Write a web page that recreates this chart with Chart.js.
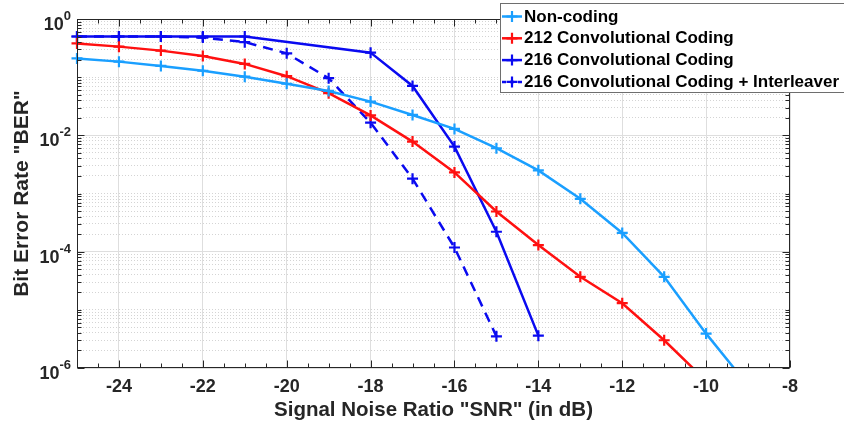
<!DOCTYPE html>
<html>
<head>
<meta charset="utf-8">
<title>BER vs SNR</title>
<script src="https://cdn.jsdelivr.net/npm/chart.js@4.4.0/dist/chart.umd.min.js"></script>
<style>
    html, body { margin: 0; padding: 0; background: #fff; }
    #wrap { width: 844px; height: 429px; }
</style>
</head>
<body>
<div id="wrap"><canvas id="ber-chart" width="844" height="429"></canvas></div>
<script>
// ------------------------------------------------------------
// Data
// ------------------------------------------------------------
const seriesLabels = [
    "Non-coding",
    "212 Convolutional Coding",
    "216 Convolutional Coding",
    "216 Convolutional Coding + Interleaver"
];

const snrNonCoding = [-25, -24, -23, -22, -21, -20, -19, -18, -17, -16, -15, -14, -13, -12, -11, -10, -9];
const berNonCoding = [0.21, 0.185, 0.156, 0.129, 0.102, 0.077, 0.058, 0.038, 0.0224, 0.0129, 0.006, 0.0025, 0.00081, 0.00021, 0.000037, 0.0000039, 0.0000005];

const snrConv212 = [-25, -24, -23, -22, -21, -20, -19, -18, -17, -16, -15, -14, -13, -12, -11, -10];
const berConv212 = [0.38, 0.335, 0.286, 0.231, 0.169, 0.104, 0.053, 0.022, 0.0078, 0.0023, 0.00049, 0.00013, 0.000037, 0.000013, 0.000003, 0.0000006];

const snrConv216 = [-25, -24, -23, -22, -21, -18, -17, -16, -15, -14];
const berConv216 = [0.5, 0.5, 0.5, 0.5, 0.5, 0.264, 0.0706, 0.0064, 0.00022, 0.0000036];

const snrConv216Int = [-25, -24, -23, -22, -21, -20, -19, -18, -17, -16, -15];
const berConv216Int = [0.5, 0.5, 0.5, 0.48, 0.4, 0.257, 0.096, 0.0165, 0.0018, 0.000118, 0.0000035];

// axis ticks
const xLabelTicks = [-24, -22, -20, -18, -16, -14, -12, -10, -8];
const yDecades = [0, -1, -2, -3, -4, -5, -6];
const yLabelExps = [0, -2, -4, -6];

const colors = ["#1a9fff", "#ff1010", "#0a0af0", "#0a0af0"];
const AXIS_COLOR = "#262626";
const FONT = '"Liberation Sans", Arial, Helvetica, sans-serif';

// ------------------------------------------------------------
function toPoints(xs, ys) {
    return xs.map((x, i) => ({ x: x, y: ys[i] }));
}

function makeDataset(idx, xs, ys, dashed) {
    return {
        label: seriesLabels[idx],
        data: toPoints(xs, ys),
        borderColor: colors[idx],
        backgroundColor: colors[idx],
        borderWidth: 2.5,
        borderDash: dashed ? [10, 7] : [],
        pointStyle: "cross",
        pointRadius: 5.5,
        pointBorderWidth: 2.2,
        pointHoverRadius: 5.5,
        tension: 0,
        clip: { left: 10, top: 10, right: 0, bottom: 0 }
    };
}

const isMajorX = v => Number.isInteger(v) && v % 2 === 0;
const isMajorY = v => {
    const e = Math.log10(v);
    return Math.abs(e - Math.round(e)) < 1e-9 && Math.round(e) % 2 === 0;
};

// frame, inward ticks, superscript y labels, legend
const framePlugin = {
    id: "matlabFrame",
    afterDraw(chart) {
        const { ctx, chartArea, scales } = chart;
        const { left, top, right, bottom } = chartArea;
        const xs = scales.x, ys = scales.y;
        ctx.save();

        // box
        ctx.strokeStyle = AXIS_COLOR;
        ctx.lineWidth = 1;
        ctx.setLineDash([]);
        const L = Math.round(left) + 0.5, R = Math.round(right) - 0.5;
        const T = Math.round(top) + 0.5, B = Math.round(bottom) - 0.5;
        ctx.strokeRect(L, T, R - L, B - T);

        // ticks pointing inward
        ctx.beginPath();
        xs.ticks.forEach(t => {
            const px = Math.round(xs.getPixelForValue(t.value)) + 0.5;
            const len = isMajorX(t.value) ? 7 : 4;
            ctx.moveTo(px, B); ctx.lineTo(px, B - len);
            ctx.moveTo(px, T); ctx.lineTo(px, T + len);
        });
        ys.ticks.forEach(t => {
            const py = Math.round(ys.getPixelForValue(t.value)) + 0.5;
            const len = isMajorY(t.value) ? 7 : 4;
            ctx.moveTo(L, py); ctx.lineTo(L + len, py);
            ctx.moveTo(R, py); ctx.lineTo(R - len, py);
        });
        ctx.stroke();

        // y tick labels 10^k
        ctx.fillStyle = AXIS_COLOR;
        ctx.textBaseline = "alphabetic";
        yLabelExps.forEach(e => {
            const py = ys.getPixelForValue(Math.pow(10, e));
            const expText = String(e);
            ctx.font = "bold 13px " + FONT;
            const ew = ctx.measureText(expText).width;
            const xr = left - 6;
            ctx.textAlign = "right";
            ctx.fillText(expText, xr, py + 1);
            ctx.font = "bold 18px " + FONT;
            ctx.fillText("10", xr - ew, py + 11);
        });

        // legend
        const bx = 500.5, by = 3.5, bw = 360, bh = 89;
        ctx.fillStyle = "#ffffff";
        ctx.fillRect(bx, by, bw, bh);
        ctx.strokeStyle = "#6e6e6e";
        ctx.lineWidth = 1;
        ctx.strokeRect(bx, by, bw, bh);
        chart.data.datasets.forEach((ds, i) => {
            const cy = 16.5 + i * 21.8;
            ctx.strokeStyle = ds.borderColor;
            ctx.lineWidth = 2.5;
            ctx.setLineDash(ds.borderDash.length ? [4, 4] : []);
            ctx.beginPath();
            ctx.moveTo(502, cy); ctx.lineTo(522, cy);
            ctx.stroke();
            ctx.setLineDash([]);
            ctx.lineWidth = 2.2;
            ctx.beginPath();
            ctx.moveTo(506.5, cy); ctx.lineTo(517.5, cy);
            ctx.moveTo(512, cy - 5.5); ctx.lineTo(512, cy + 5.5);
            ctx.stroke();
            ctx.fillStyle = "#000";
            ctx.font = "bold 17px " + FONT;
            ctx.textAlign = "left";
            ctx.textBaseline = "middle";
            ctx.fillText(ds.label, 524, cy + 0.5);
        });
        ctx.restore();
    }
};

const chart = new Chart(document.getElementById("ber-chart").getContext("2d"), {
    type: "line",
    data: {
        datasets: [
            makeDataset(0, snrNonCoding, berNonCoding, false),
            makeDataset(1, snrConv212, berConv212, false),
            makeDataset(2, snrConv216, berConv216, false),
            makeDataset(3, snrConv216Int, berConv216Int, true)
        ]
    },
    options: {
        responsive: false,
        animation: false,
        events: [],
        layout: { padding: { top: 19, right: 54, left: 0, bottom: 0 } },
        plugins: {
            legend: { display: false },
            tooltip: { enabled: false }
        },
        scales: {
            x: {
                type: "linear",
                min: -25,
                max: -8,
                afterBuildTicks(scale) {
                    const ticks = [];
                    for (let v = -25; v <= -8; v += 0.5) ticks.push({ value: v });
                    scale.ticks = ticks;
                },
                afterFit(scale) { scale.height = 61; },
                ticks: {
                    autoSkip: false,
                    maxRotation: 0,
                    padding: 8,
                    color: AXIS_COLOR,
                    font: { family: FONT, size: 18, weight: "bold" },
                    callback: v => (xLabelTicks.includes(v) ? String(v) : "")
                },
                grid: {
                    drawTicks: false,
                    lineWidth: 1,
                    color: ctx => (ctx.tick && isMajorX(ctx.tick.value) ? "#dedede" : "rgba(0,0,0,0)")
                },
                border: { display: false },
                title: {
                    display: true,
                    text: 'Signal Noise Ratio "SNR" (in dB)',
                    color: AXIS_COLOR,
                    font: { family: FONT, size: 20.5, weight: "bold", lineHeight: 1.2 },
                    padding: { top: 0, bottom: 6 }
                }
            },
            y: {
                type: "logarithmic",
                min: 1e-6,
                max: 1,
                afterBuildTicks(scale) {
                    const ticks = [];
                    yDecades.forEach(e => {
                        const base = Math.pow(10, e);
                        if (e === 0) { ticks.push({ value: 1 }); return; }
                        for (let m = 1; m <= 9; m++) ticks.push({ value: m * base });
                    });
                    scale.ticks = ticks;
                },
                afterFit(scale) { scale.width = 77; },
                ticks: { display: false },
                grid: {
                    drawTicks: false,
                    lineWidth: 1,
                    color: ctx => (ctx.tick && isMajorY(ctx.tick.value) ? "#dedede" : "#d4d4d4")
                },
                border: {
                    display: false,
                    dash: ctx => (ctx.tick && !isMajorY(ctx.tick.value) ? [1, 2] : [])
                },
                title: {
                    display: true,
                    text: 'Bit Error Rate "BER"',
                    color: AXIS_COLOR,
                    font: { family: FONT, size: 21, weight: "bold", lineHeight: 1.2 },
                    padding: { top: 10, bottom: 0 }
                }
            }
        }
    },
    plugins: [framePlugin]
});
</script>
</body>
</html>
